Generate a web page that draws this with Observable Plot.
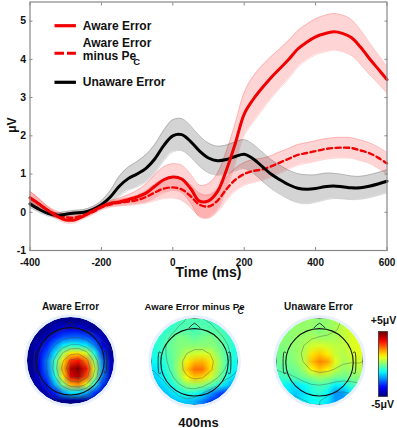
<!DOCTYPE html>
<html><head><meta charset="utf-8">
<script src="https://cdn.jsdelivr.net/npm/d3@7"></script>
<script src="https://cdn.jsdelivr.net/npm/@observablehq/plot@0.6"></script>
<style>
html,body{margin:0;padding:0;background:#fff;width:397px;height:428px;overflow:hidden}
#root{position:relative;width:397px;height:428px;font-family:"Liberation Sans",Arial,sans-serif}
#root svg{position:absolute;background:transparent;overflow:visible}
</style></head><body><div id="root"></div>
<script>
const times = [-400,-375,-350,-325,-300,-275,-250,-225,-200,-175,-150,-125,-100,-75,-50,-25,0,25,50,75,100,125,150,175,200,225,250,275,300,325,350,375,400,425,450,475,500,525,550,575,600];
const awareMean = [.38,.22,.05,-.1,-.2,-.2,-.1,.03,.15,.23,.27,.33,.4,.5,.68,.85,.92,.87,.62,.29,.3,.54,1.1,1.8,2.57,2.95,3.25,3.52,3.76,4.0,4.27,4.45,4.59,4.67,4.72,4.68,4.57,4.33,4.03,3.75,3.47];
const awareErr = [.17,.14,.1,.08,.08,.08,.07,.07,.07,.08,.1,.13,.17,.24,.3,.34,.35,.36,.38,.42,.45,.48,.5,.53,.56,.6,.58,.55,.52,.5,.48,.47,.47,.48,.48,.48,.47,.45,.42,.38,.35];
const minusMean = [.38,.22,.05,-.05,-.13,-.14,-.08,0,.13,.2,.25,.28,.32,.4,.52,.62,.65,.6,.42,.2,.15,.3,.6,.85,1.0,1.08,1.12,1.2,1.3,1.4,1.5,1.55,1.6,1.65,1.68,1.69,1.68,1.62,1.55,1.43,1.28];
const minusErr = [.17,.14,.1,.08,.08,.08,.07,.07,.07,.07,.08,.1,.12,.16,.22,.26,.28,.29,.3,.3,.3,.3,.3,.3,.3,.3,.29,.28,.28,.27,.27,.27,.27,.27,.27,.27,.27,.27,.27,.28,.28];
const unawareMean = [.22,.08,-.03,-.08,-.05,-.02,0,.07,.2,.4,.68,.88,1.0,1.15,1.4,1.75,2.0,2.03,1.85,1.6,1.42,1.35,1.38,1.46,1.52,1.4,1.2,1.0,.85,.72,.63,.6,.62,.67,.69,.67,.64,.64,.68,.74,.81];
const unawareErr = [.1,.08,.07,.07,.07,.07,.07,.08,.1,.17,.26,.3,.33,.36,.38,.4,.42,.42,.41,.4,.39,.38,.38,.38,.38,.38,.38,.38,.38,.38,.38,.38,.36,.35,.33,.32,.31,.3,.3,.3,.3];
const yTicks = [-1,0,1,2,3,4,5];
const xTicks = [-400,-200,0,200,400,600];
const legendLabels = ["Aware Error","Aware Error","minus Pe","Unaware Error"];

const awareMap = [
[-5,-5,-5,-5,-5,-5,-5,-5,-5,-5,-5],
[-5,-5,-5,-4.5,-4,-4,-4,-4.5,-5,-5,-5],
[-5,-5,-4.5,-3.5,-3,-2.8,-2.8,-3,-3.5,-4.5,-5],
[-5,-4.5,-3.5,-2.5,-1.5,-1,-1.2,-1.5,-2.5,-4,-5],
[-5,-4,-3,-1.5,.3,1.5,1.5,.8,-1,-3.2,-4.8],
[-5,-4,-2.5,-.6,1.5,3.2,3.6,2.5,.2,-2.5,-4.5],
[-5,-4,-2.6,-.6,2,4.5,5,3.6,.8,-2.3,-4.5],
[-5,-4.2,-3,-1,1.5,4,4.6,3,.4,-2.5,-4.6],
[-5,-4.6,-3.6,-2,0,2,2.4,1,-1,-3.2,-4.8],
[-5,-5,-4.5,-3.5,-2.2,-1.5,-1.5,-2,-3.2,-4.5,-5],
[-5,-5,-5,-5,-5,-5,-5,-5,-5,-5,-5]];
const minusMap = [
[-1,-1,-.8,-.6,-.5,-.5,-.5,-.6,-.8,-1,-1],
[-.8,-.8,-.7,-.5,-.4,-.6,-.4,-.4,-.5,-.7,-.9],
[-.8,-.7,-.3,0,-.1,-.3,-.1,0,-.2,-.6,-.9],
[-.9,-.6,-.2,0,.1,.1,.1,.1,-.1,-.5,-.9],
[-1,-.7,-.3,.1,.6,.8,.9,.8,.1,-.5,-1],
[-1.2,-.9,-.4,.3,1.4,1.9,2,1.5,.4,-.5,-1.1],
[-1.5,-1.1,-.5,.4,1.8,2.7,2.6,1.6,.3,-.6,-1.3],
[-1.7,-1.3,-.7,.1,1.2,1.8,1.6,.8,0,-.9,-1.6],
[-2,-1.6,-1.1,-.5,.1,.2,.1,-.4,-1,-1.7,-2.4],
[-2.2,-2,-1.6,-1.2,-.9,-1,-1.5,-2.2,-3,-3.4,-3.2],
[-2.3,-2.2,-2,-1.8,-1.8,-2,-2.5,-3.2,-3.6,-3.6,-3.4]];
const unawareMap = [
[.2,.2,.2,.2,.2,.1,.2,.4,.5,.6,.6],
[.1,.1,.2,.2,.2,0,.2,.4,.7,.8,.8],
[.1,.1,.2,.3,.4,.3,.3,.4,.6,.9,.9],
[0,.1,.2,.4,.8,.9,.8,.6,.6,.9,1],
[-.1,0,.2,.5,1.5,1.8,1.4,.7,.5,.8,1],
[-.2,-.1,.1,.6,1.9,2.5,2.2,1,.4,.6,.8],
[-.4,-.3,-.1,.3,1.2,1.8,1.4,.6,.2,.3,.5],
[-.7,-.6,-.4,-.2,.1,.3,.2,-.1,-.2,0,.1],
[-1.1,-1.4,-1.5,-1.2,-.8,-.5,-.7,-1.4,-1.3,-.7,-.4],
[-1.2,-1.5,-1.8,-1.5,-1,-.8,-1.3,-2.3,-2.2,-1.4,-.9],
[-1.2,-1.4,-1.5,-1.4,-1.2,-1.1,-1.5,-2.2,-2.3,-1.8,-1.3]];
const contourLevels = [-3.75,-2.5,-1.25,-.5,.5,1.25,2.5,3.75];
const barValues = [5,4.5,4,3.5,3,2.5,2,1.5,1,.5,0,-.5,-1,-1.5,-2,-2.5,-3,-3.5,-4,-4.5,-5];
const noseX = [-.13,-.06,0,.06,.13], noseY = [.77,.84,.88,.84,.77];
const earX = [.77,.81,.83,.83,.81,.77], earY = [.2,.22,.15,-.2,-.28,-.26];

const jet = {type:"linear", domain:[-5,-3.75,-1.25,1.25,3.75,5], range:["#00008f","#0000ff","#00ffff","#ffff00","#ff0000","#800000"], clamp:true};
const root = document.getElementById("root");
const font = '"Liberation Sans",Arial,sans-serif';
function place(svg,left,top){svg.style.left=left+"px";svg.style.top=top+"px";root.appendChild(svg);}

const rows = (m,e)=>times.map((t,i)=>({t,v:m[i],lo:m[i]-e[i],hi:m[i]+e[i]}));
const aware=rows(awareMean,awareErr), minus=rows(minusMean,minusErr), unaware=rows(unawareMean,unawareErr);
const band=(d,c)=>Plot.areaY(d,{x:"t",y1:"lo",y2:"hi",fill:c,fillOpacity:.17,curve:"catmull-rom"});
const edge=(d,c,k)=>Plot.lineY(d,{x:"t",y:k,stroke:c,strokeOpacity:.2,strokeWidth:.8,curve:"catmull-rom"});
const boldText={fontWeight:"bold",fill:"#111"};

const main = Plot.plot({
  width:397,height:285,marginLeft:29.5,marginRight:10.5,marginTop:1.5,marginBottom:35,
  style:{fontFamily:font,background:"transparent"},
  x:{domain:[-400,600]},y:{domain:[-1,5.5]},
  marks:[
    band(minus,"#ff0000"),edge(minus,"#ff0000","lo"),edge(minus,"#ff0000","hi"),
    band(aware,"#ff0000"),edge(aware,"#ff0000","lo"),edge(aware,"#ff0000","hi"),
    band(unaware,"#000000"),edge(unaware,"#000000","lo"),edge(unaware,"#000000","hi"),
    Plot.lineY(minus,{x:"t",y:"v",stroke:"#f00000",strokeWidth:2.4,strokeDasharray:"5,3.5",curve:"catmull-rom"}),
    Plot.lineY(unaware,{x:"t",y:"v",stroke:"#000",strokeWidth:3,curve:"catmull-rom"}),
    Plot.lineY(aware,{x:"t",y:"v",stroke:"#f00000",strokeWidth:3,curve:"catmull-rom"}),
    Plot.frame({stroke:"#888",strokeWidth:1.2}),
    Plot.axisX({ticks:xTicks,anchor:"bottom",tickSize:-3,tickPadding:11,stroke:"#888",label:null,tickFormat:d=>String(d),fontWeight:"bold",fontSize:10,fill:"#111"}),
    Plot.axisX({ticks:xTicks,anchor:"top",tickSize:-3,stroke:"#888",label:null,tickFormat:null,text:null}),
    Plot.axisY({ticks:yTicks,anchor:"left",tickSize:-3,tickPadding:7,stroke:"#888",label:null,tickFormat:d=>String(d),fontWeight:"bold",fontSize:10.5,fill:"#111"}),
    Plot.axisY({ticks:yTicks,anchor:"right",tickSize:-3,stroke:"#888",label:null,text:null}),
    Plot.text(["Time (ms)"],{x:100,y:-1,dy:22.5,fontSize:14,...boldText}),
    Plot.text(["μV"],{x:-450,y:2.28,rotate:-90,fontSize:12,...boldText}),
    Plot.ruleY([4.88],{x1:-330,x2:-270,stroke:"#f00000",strokeWidth:3.2}),
    Plot.ruleY([4.16],{x1:-330,x2:-270,stroke:"#f00000",strokeWidth:3.2,strokeDasharray:"9.5,3"}),
    Plot.ruleY([3.4],{x1:-330,x2:-270,stroke:"#000",strokeWidth:3.2}),
    Plot.text(legendLabels,{x:-252,y:[4.88,4.42,4.09,3.41],text:d=>d,textAnchor:"start",fontSize:12,...boldText}),
    Plot.text(["C"],{x:-111,y:3.93,textAnchor:"start",fontSize:9.5,...boldText})
  ]
});
place(main,0,0);

function topomap(grid,cx,cy){
  const n=grid.length, flat=grid.flat(), R=43.5, S=100;
  const grid4={width:n,height:n,x1:-1,x2:1,y1:1,y2:-1};
  const ear=s=>Plot.line(earX.map((x,i)=>[s*x,earY[i]]),{stroke:"#222",strokeWidth:.9,curve:"catmull-rom"});
  const svg=Plot.plot({
    width:S,height:S,margin:0,
    style:{background:"transparent"},
    x:{domain:[-1,1],range:[S/2-R,S/2+R],axis:null},
    y:{domain:[-1,1],range:[S/2+R,S/2-R],axis:null},
    color:jet,
    marks:[
      Plot.raster(flat,{...grid4,imageRendering:"auto"}),
      Plot.contour(flat,{...grid4,thresholds:contourLevels,blur:1,fill:null,stroke:"#444",strokeOpacity:.55,strokeWidth:.7}),
      Plot.dot([[0,0]],{r:R+15,stroke:"#fff",strokeWidth:30,fill:"none"}),
      Plot.dot([[0,0]],{r:R+1.4,stroke:"#e6f0ff",strokeWidth:2.6,fill:"none"}),
      Plot.dot([[0,-.02]],{r:33.7,stroke:"#111",strokeWidth:1.1,fill:"none"}),
      Plot.line(noseX.map((x,i)=>[x,noseY[i]]),{stroke:"#222",strokeWidth:.9}),
      ear(1),ear(-1)
    ]
  });
  place(svg,cx-S/2,cy-S/2);
}
topomap(awareMap,70,360);
topomap(minusMap,194,360.5);
topomap(unawareMap,319,361);

const bar=Plot.plot({
  width:9,height:65,margin:0,
  style:{background:"transparent"},
  x:{domain:[0,1],axis:null},y:{domain:[0,1],axis:null},
  color:jet,
  marks:[
    Plot.raster(barValues,{width:1,height:barValues.length,x1:0,x2:1,y1:1,y2:0,imageRendering:"auto"}),
    Plot.frame({stroke:"#333",strokeWidth:.8})
  ]
});
place(bar,378,331);

const strip=Plot.plot({
  width:397,height:143,margin:0,
  style:{fontFamily:font,background:"transparent"},
  x:{domain:[0,397],range:[0,397],axis:null},
  y:{domain:[285,428],range:[0,143],axis:null},
  marks:[
    Plot.text(["Aware Error"],{x:70,y:306,fontSize:10,...boldText}),
    Plot.text(["Aware Error minus Pe"],{x:144,y:306,textAnchor:"start",fontSize:9.6,...boldText}),
    Plot.text(["C"],{x:237,y:311,textAnchor:"start",fontSize:8.5,...boldText}),
    Plot.text(["Unaware Error"],{x:318,y:306,fontSize:10,...boldText}),
    Plot.text(["400ms"],{x:198,y:422.5,fontSize:13,...boldText}),
    Plot.text(["+5μV"],{x:383,y:320.5,fontSize:10.5,...boldText}),
    Plot.text(["-5μV"],{x:382,y:404,fontSize:10.5,...boldText})
  ]
});
place(strip,0,285);
</script></body></html>
